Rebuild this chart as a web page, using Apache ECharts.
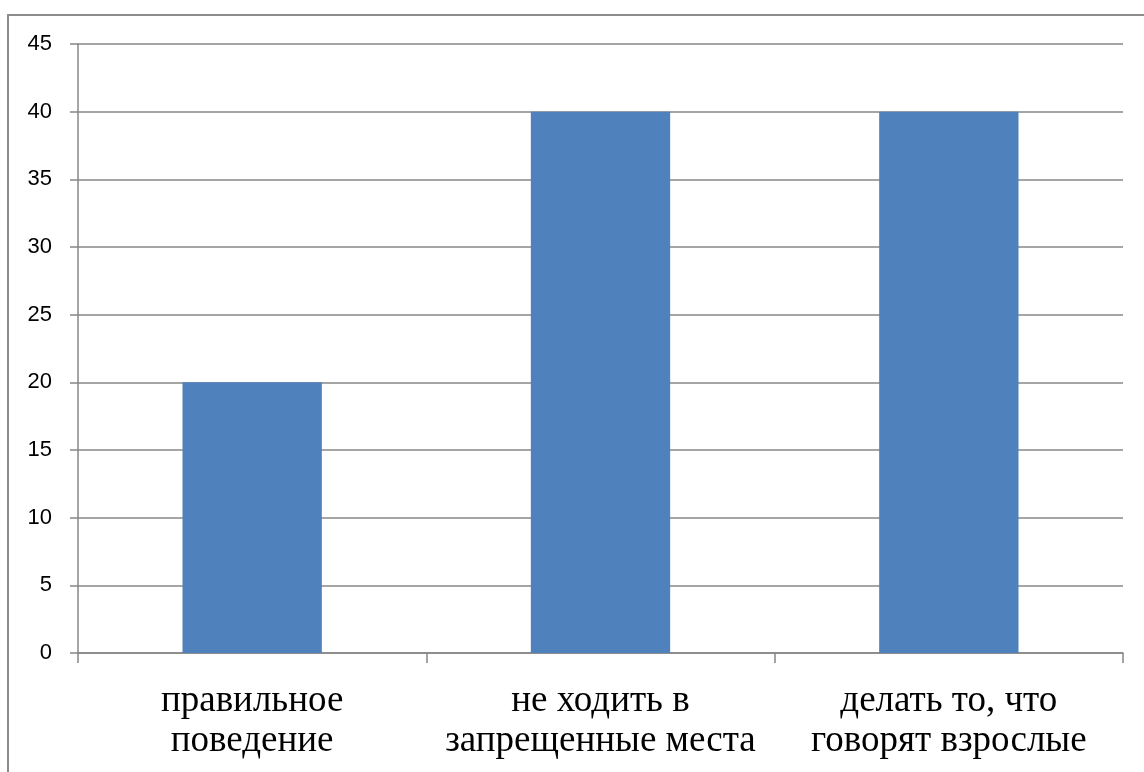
<!DOCTYPE html>
<html>
<head>
<meta charset="utf-8">
<script src="https://cdn.jsdelivr.net/npm/echarts@6/dist/echarts.min.js"></script>
<style>
  html, body { margin: 0; padding: 0; background: #ffffff; }
  #chart { width: 1144px; height: 772px; }
</style>
</head>
<body>
<div id="chart"></div>
<script>
// Categories and values of the column chart
const categories = [
  'правильное\nповедение',
  'не ходить в\nзапрещенные места',
  'делать то, что\nговорят взрослые'
];
const values = [20, 40, 40];
const yTicks = { min: 0, max: 45, step: 5 };

const chart = echarts.init(document.getElementById('chart'), null, { renderer: 'canvas' });

const gray = '#878787';

chart.setOption({
  animation: false,
  backgroundColor: '#ffffff',
  grid: { left: 78, right: 21, top: 44, bottom: 119, containLabel: false },
  graphic: [{
    type: 'rect',
    silent: true,
    shape: { x: 8, y: 15, width: 1200, height: 800 },
    style: { fill: 'none', stroke: '#8c8c8c', lineWidth: 2 }
  }],
  xAxis: {
    type: 'category',
    data: categories,
    axisLine: { lineStyle: { color: gray, width: 1.5 } },
    axisTick: { show: true, length: 10, lineStyle: { color: gray, width: 1.5 } },
    axisLabel: {
      color: '#000000',
      fontFamily: '"Liberation Serif", "Times New Roman", serif',
      fontSize: 37,
      lineHeight: 40,
      margin: 28,
      interval: 0
    }
  },
  yAxis: {
    type: 'value',
    min: yTicks.min,
    max: yTicks.max,
    interval: yTicks.step,
    axisLine: { show: true, lineStyle: { color: gray, width: 1.5 } },
    axisTick: { show: true, length: 8, lineStyle: { color: gray, width: 1.5 } },
    splitLine: { show: true, lineStyle: { color: gray, width: 1.5 } },
    axisLabel: {
      color: '#000000',
      fontFamily: '"Liberation Sans", Arial, sans-serif',
      fontSize: 22,
      margin: 26
    }
  },
  series: [{
    type: 'bar',
    data: values,
    barWidth: '40%',
    itemStyle: { color: '#4f81bd' }
  }]
});
</script>
</body>
</html>
